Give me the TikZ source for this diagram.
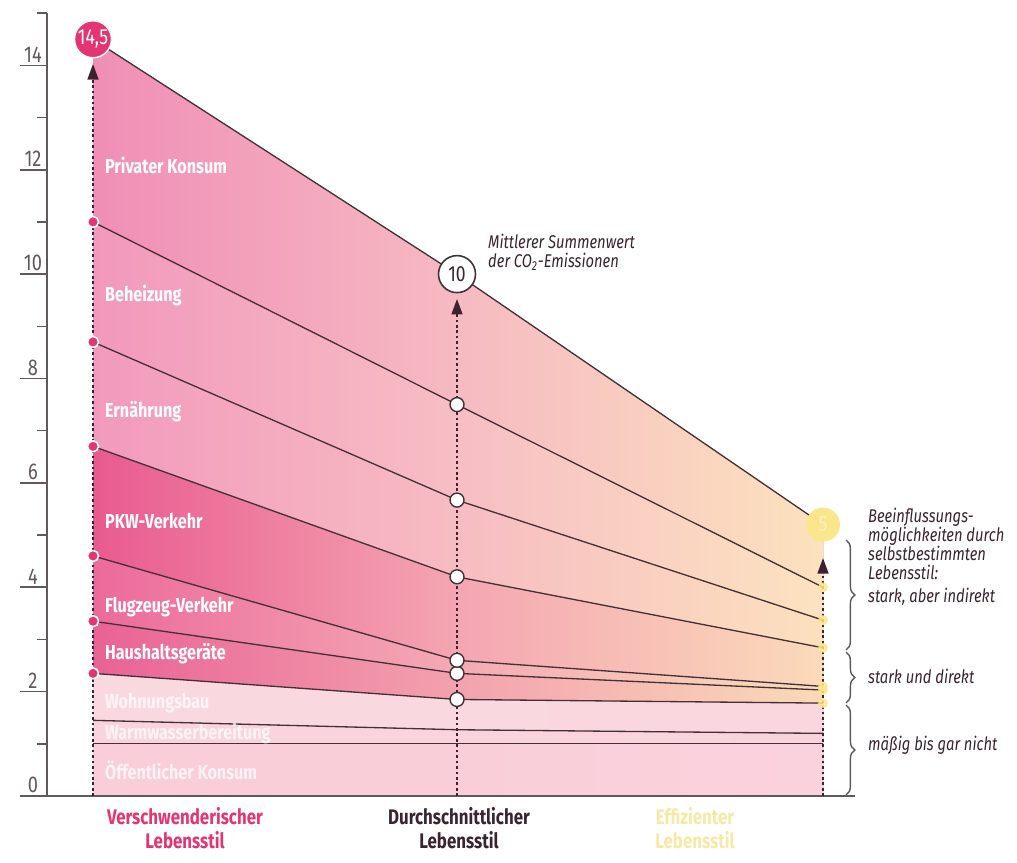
\documentclass[tikz,border=0pt]{standalone}
\usepackage{fontspec}
\setmainfont{Fira Sans}[FakeStretch=0.8]
\usetikzlibrary{arrows.meta,decorations.pathreplacing}

\definecolor{axisgray}{RGB}{95,88,92}
\definecolor{linebrown}{RGB}{68,48,54}
\definecolor{dotdark}{RGB}{62,32,46}
\definecolor{wastepink}{RGB}{228,52,114}
\definecolor{avgdark}{RGB}{58,36,48}
\definecolor{effyellow}{RGB}{251,230,140}
\definecolor{efftext}{RGB}{247,232,165}
% layer colours: left / middle / right
\definecolor{privL}{RGB}{240,142,182}\definecolor{privM}{RGB}{246,186,194}\definecolor{privR}{RGB}{252,226,190}
\definecolor{heizL}{RGB}{242,152,188}\definecolor{heizM}{RGB}{247,190,196}\definecolor{heizR}{RGB}{252,227,192}
\definecolor{ernL}{RGB}{242,154,189}\definecolor{ernM}{RGB}{247,188,194}\definecolor{ernR}{RGB}{252,225,190}
\definecolor{pkwL}{RGB}{233,90,143}\definecolor{pkwM}{RGB}{244,166,178}\definecolor{pkwR}{RGB}{251,218,186}
\definecolor{flugL}{RGB}{236,106,155}\definecolor{flugM}{RGB}{244,170,180}\definecolor{flugR}{RGB}{251,220,186}
\definecolor{hausL}{RGB}{233,98,149}\definecolor{hausM}{RGB}{243,162,174}\definecolor{hausR}{RGB}{250,218,184}
\definecolor{wohnL}{RGB}{250,216,224}\definecolor{wohnR}{RGB}{250,214,222}
\definecolor{warmL}{RGB}{250,212,221}\definecolor{warmR}{RGB}{250,210,220}
\definecolor{oeffL}{RGB}{249,206,217}\definecolor{oeffR}{RGB}{250,210,221}

\tikzset{
  layer/.style n args={3}{left color=#1, right color=#3, middle color=#2},
  axisline/.style={axisgray, line width=0.9pt},
  bound/.style={linebrown, line width=0.75pt},
  colarrow/.style={dotdark, line width=1.6pt, dash pattern=on 1.5pt off 1.6pt,
    -{Triangle[length=9pt, width=6pt]}, shorten >=3pt},
  leftdot/.style={circle, fill=wastepink, draw=white, line width=0.9pt, inner sep=0pt, minimum size=0.22cm},
  middot/.style={circle, fill=white, draw=linebrown, line width=0.8pt, inner sep=0pt, minimum size=0.28cm},
  rightdot/.style={circle, fill=effyellow, opacity=0.85, inner sep=0pt, minimum size=0.2cm},
  bigdot/.style={circle, inner sep=0pt, font=\fontsize{12.5}{13}\selectfont},
  ylabel/.style={anchor=south, inner sep=1.5pt, axisgray, font=\fontsize{13}{14}\selectfont},
  layertext/.style={anchor=west, text=white, inner sep=1pt, font=\fontsize{11.5}{13}\bfseries\selectfont},
  coltext/.style={align=center, font=\fontsize{12}{13.5}\bfseries\selectfont},
  notetext/.style={anchor=west, avgdark, font=\fontsize{10.5}{10.8}\itshape\selectfont},
  bracestyle/.style={axisgray, line width=0.8pt, decorate, decoration={brace, amplitude=5pt}}
}

\begin{document}
\begin{tikzpicture}[x=0.02cm, y=0.02cm]
\useasboundingbox (0,0) rectangle (1017,862);

\begin{scope}[yshift=1.32cm, y=1.044cm]
% boundaries of the layers at the three lifestyles
\foreach \i/\l/\m/\r in {0/0/0/0, 1/1.0/1.0/1.0, 2/1.45/1.27/1.2, 3/2.35/1.85/1.78,
    4/3.35/2.35/2.03, 5/4.6/2.6/2.1, 6/6.7/4.2/2.84, 7/8.7/5.67/3.37,
    8/11/7.5/4.0, 9/14.5/10/5.2} {
  \coordinate (L\i) at (93,\l);
  \coordinate (M\i) at (457,\m);
  \coordinate (R\i) at (823,\r);
}

% layers
\fill[layer={oeffL}{oeffL}{oeffR}] (L0) -- (M0) -- (R0) -- (R1) -- (M1) -- (L1) -- cycle;
\fill[layer={warmL}{warmL}{warmR}] (L1) -- (M1) -- (R1) -- (R2) -- (M2) -- (L2) -- cycle;
\fill[layer={wohnL}{wohnL}{wohnR}] (L2) -- (M2) -- (R2) -- (R3) -- (M3) -- (L3) -- cycle;
\fill[layer={hausL}{hausM}{hausR}] (L3) -- (M3) -- (R3) -- (R4) -- (M4) -- (L4) -- cycle;
\fill[layer={flugL}{flugM}{flugR}] (L4) -- (M4) -- (R4) -- (R5) -- (M5) -- (L5) -- cycle;
\fill[layer={pkwL}{pkwM}{pkwR}] (L5) -- (M5) -- (R5) -- (R6) -- (M6) -- (L6) -- cycle;
\fill[layer={ernL}{ernM}{ernR}] (L6) -- (M6) -- (R6) -- (R7) -- (M7) -- (L7) -- cycle;
\fill[layer={heizL}{heizM}{heizR}] (L7) -- (M7) -- (R7) -- (R8) -- (M8) -- (L8) -- cycle;
\fill[layer={privL}{privM}{privR}] (L8) -- (M8) -- (R8) -- (R9) -- (M9) -- (L9) -- cycle;

\foreach \i in {1,...,9}
  \draw[bound] (L\i) -- (M\i) -- (R\i);

% axis
\draw[axisline] (47,0) -- (47,15);
\draw[axisline] (20,0) -- (855,0);
\foreach \v in {0,2,...,14} {
  \draw[axisline] (20,\v) -- (47,\v);
  \node[ylabel] (y\v) at (33,\v) {\v};
}
\foreach \v in {1,3,...,15}
  \draw[axisline] (37,\v) -- (47,\v);

% sums
\node[bigdot, fill=wastepink, text=white, draw=white, line width=0.8pt, minimum size=0.74cm] (top145) at (L9) {14,5};
\node[bigdot, fill=white, text=avgdark, draw=linebrown, line width=0.9pt, minimum size=0.74cm] (top10) at (M9) {10};
\node[bigdot, fill=effyellow, text=efftext!60!white, minimum size=0.68cm] (top5) at (R9) {5};

\draw[colarrow] (L0) -- (top145.south);
\draw[colarrow] (M0) -- (top10.south);
\draw[colarrow] (R0) -- ([yshift=-6pt]top5.south);

\foreach \i in {3,...,8} {
  \node[leftdot] (ld\i) at (L\i) {};
  \node[middot] (md\i) at (M\i) {};
  \node[rightdot] (rd\i) at (R\i) {};
}
\end{scope}

% layer names
\node[layertext] (tPriv) at (103,697) {Privater Konsum};
\node[layertext] (tHeiz) at (103,566) {Beheizung};
\node[layertext] (tErn) at (103,450) {Ernährung};
\node[layertext] (tPkw) at (103,341) {PKW-Verkehr};
\node[layertext] (tFlug) at (103,255) {Flugzeug-Verkehr};
\node[layertext] (tHaus) at (103,208) {Haushaltsgeräte};
\node[layertext, opacity=0.75] (tWohn) at (103,159) {Wohnungsbau};
\node[layertext, opacity=0.75] (tWarm) at (103,128) {Warmwasserbereitung};
\node[layertext, opacity=0.75] (tOeff) at (103,92) {Öffentlicher Konsum};

% note at the average
\node[notetext, align=left, anchor=north west] (tMittel) at (482,634)
  {Mittlerer Summenwert\\der CO\textsubscript{2}-Emissionen};

% lifestyles
\node[coltext, wastepink] (tVer) at (185,34) {Verschwenderischer\\Lebensstil};
\node[coltext, avgdark] (tDur) at (459,34) {Durchschnittlicher\\Lebensstil};
\node[coltext, efftext] (tEff) at (695,34) {Effizienter\\Lebensstil};

% influence
\node[notetext, align=left, anchor=north west] (tBeein) at (862,360)
  {Beeinflussungs-\\möglichkeiten durch\\selbstbestimmten\\Lebensstil:};
\coordinate (bA1) at (846,322);
\coordinate (bA2) at (846,212);
\coordinate (bB1) at (846,210);
\coordinate (bB2) at (846,159);
\coordinate (bC1) at (846,157);
\coordinate (bC2) at (846,67);
\draw[bracestyle] (bA1) -- (bA2);
\draw[bracestyle] (bB1) -- (bB2);
\draw[bracestyle] (bC1) -- (bC2);
\node[notetext] (tStark) at (862,265) {stark, aber indirekt};
\node[notetext] (tDirekt) at (862,186) {stark und direkt};
\node[notetext] (tMaessig) at (862,117) {mäßig bis gar nicht};
\end{tikzpicture}
\end{document}
